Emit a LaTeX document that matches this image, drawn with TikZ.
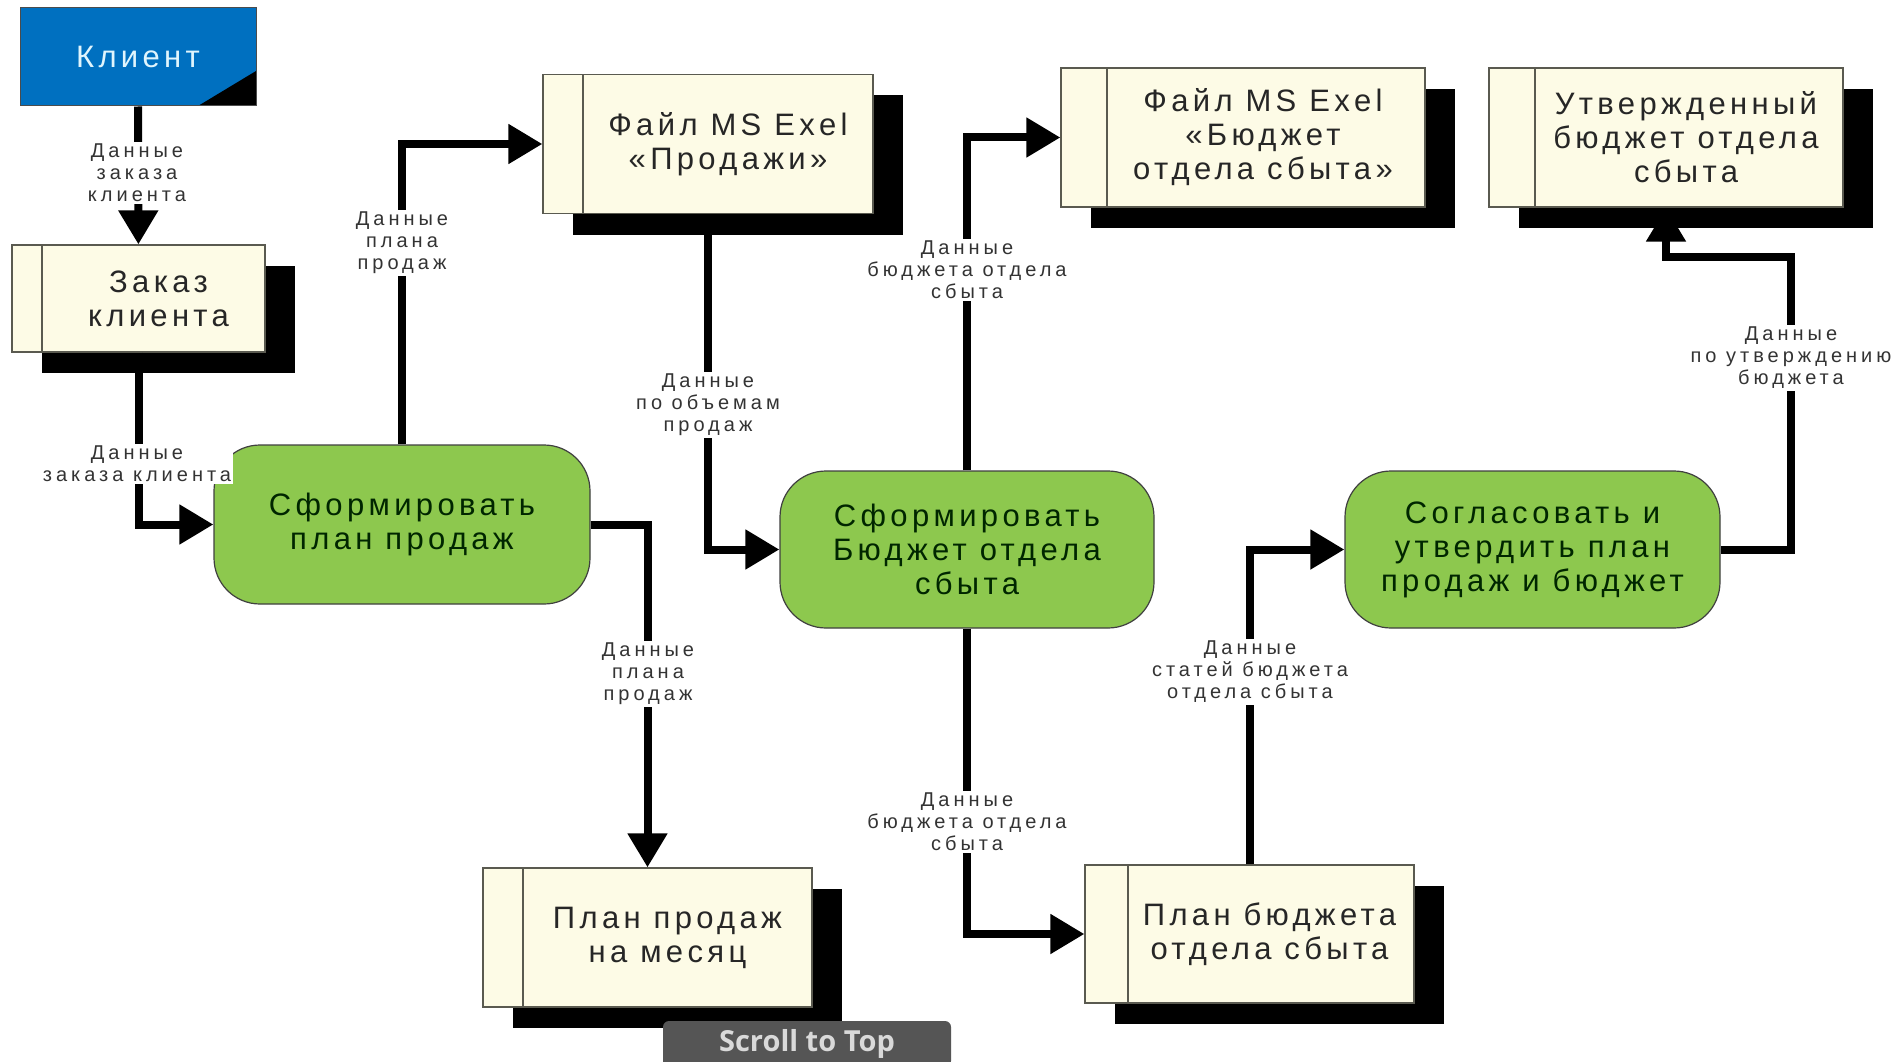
\documentclass[tikz,border=0pt]{standalone}
\usepackage{fontspec}
\setmainfont{Liberation Sans}
\newfontfamily\boxfont[LetterSpace=14]{Liberation Sans}
\newfontfamily\lblfont[LetterSpace=20]{Liberation Sans}
\newfontfamily\btnfont{Open Sans}
\usetikzlibrary{arrows.meta,shadows,backgrounds}
\definecolor{clientblue}{RGB}{0,112,192}
\definecolor{procgreen}{RGB}{141,200,78}
\definecolor{storefill}{RGB}{253,251,230}
\definecolor{storeline}{RGB}{90,90,80}
\definecolor{btngray}{RGB}{85,85,85}
\begin{document}
\begin{tikzpicture}[x=1pt,y=-1pt,
    every node/.style={font=\boxfont\fontsize{31}{34}\selectfont, align=center, text=black!85},
    strip/.store in=\stripw, strip=40,
    client/.style={draw=black!70, line width=1pt, fill=clientblue, minimum width=236, minimum height=98,
      text=white!88!cyan,
      path picture={\fill[black] (path picture bounding box.south east) -- ++(0,-35) -- ++(-58,35) -- cycle;}},
    store/.style={draw=storeline, line width=1.2pt, fill=storefill, minimum height=139,
      drop shadow={shadow xshift=30pt, shadow yshift=-21pt, fill=black, opacity=1},
      path picture={\draw[storeline, line width=1.2pt]
        ([xshift=\stripw]path picture bounding box.north west) --
        ([xshift=\stripw]path picture bounding box.south west);}},
    storetext/.style={label={[xshift=\stripw/2]center:#1}},
    proc/.style={draw=black!75, line width=1.2pt, fill=procgreen, rounded corners=46pt,
      minimum width=376, minimum height=158, text=black!85!green},
    flow/.style={line width=8pt, -{Triangle[length=34pt,width=38pt]}},
    lbl/.style={font=\lblfont\fontsize{20}{22}\selectfont, fill=white, inner sep=2pt, text=black!80},
    btn/.style={fill=btngray, rounded corners=6pt, minimum width=288, minimum height=46,
      font=\btnfont\bfseries\fontsize{29}{30}\selectfont, text=white!85!black}]
  \begin{scope}[on background layer]
    \fill[white] (0,0) rectangle (1895,1062);
  \end{scope}
  \useasboundingbox (0,0) rectangle (1895,1062);

  % external entity and data stores
  \node[client] (client) at (138,57) {Клиент};
  \node[store, strip=30, minimum width=253, minimum height=107,
    storetext={Заказ\\клиента}] (order) at (138.5,298.5) {};
  \node[store, strip=40, minimum width=330,
    storetext={Файл MS Exel\\«Продажи»}] (salesfile) at (708,144) {};
  \node[store, strip=46, minimum width=364,
    storetext={Файл MS Exel\\«Бюджет\\отдела сбыта»}] (budgetfile) at (1243,137.5) {};
  \node[store, strip=46, minimum width=354,
    storetext={Утвержденный\\бюджет отдела\\сбыта}] (approved) at (1666,137.5) {};
  \node[store, strip=40, minimum width=329,
    storetext={План продаж\\на месяц}] (monthplan) at (647.5,937.5) {};
  \node[store, strip=43, minimum width=329, minimum height=138,
    storetext={План бюджета\\отдела сбыта}] (budgetplan) at (1249.5,934) {};

  % processes
  \node[proc, minimum height=159] (plan1) at (402,524.5) {Сформировать\\план продаж};
  \node[proc, minimum width=374, minimum height=157] (plan2) at (967,549.5) {Сформировать\\Бюджет отдела\\сбыта};
  \node[proc, minimum width=375, minimum height=157] (plan3) at (1532.5,549.5) {Согласовать и\\утвердить план\\продаж и бюджет};

  \coordinate (bend9) at (1791,257);

  % data flows
  \draw[flow] (client) -- (order);
  \draw[flow] (order) |- (plan1);
  \draw[flow] (plan1) |- (salesfile);
  \draw[flow] (salesfile) |- (plan2);
  \draw[flow] (plan2) |- (budgetfile);
  \draw[flow] (plan1) -| (monthplan);
  \draw[flow] (plan2) |- (budgetplan);
  \draw[flow] (budgetplan) |- (plan3);
  \begin{scope}[on background layer]
    \draw[flow] (plan3) -| (bend9) -| (approved);
  \end{scope}

  % flow labels
  \node[lbl] (lbl1) at (137,173) {Данные\\заказа\\клиента};
  \node[lbl] (lbl2) at (137,464) {Данные\\заказа клиента};
  \node[lbl] (lbl3) at (402,243) {Данные\\плана\\продаж};
  \node[lbl] (lbl4) at (708,405) {Данные\\по объемам\\продаж};
  \node[lbl] (lbl5) at (967,270) {Данные\\бюджета отдела\\сбыта};
  \node[lbl] (lbl6) at (648,674) {Данные\\плана\\продаж};
  \node[lbl] (lbl7) at (967,822) {Данные\\бюджета отдела\\сбыта};
  \node[lbl] (lbl8) at (1250,672) {Данные\\статей бюджета\\отдела сбыта};
  \node[lbl] (lbl9) at (1791,358) {Данные\\по утверждению\\бюджета};

  \node[btn] (scrolltop) at (807,1044) {Scroll to Top};
\end{tikzpicture}
\end{document}
